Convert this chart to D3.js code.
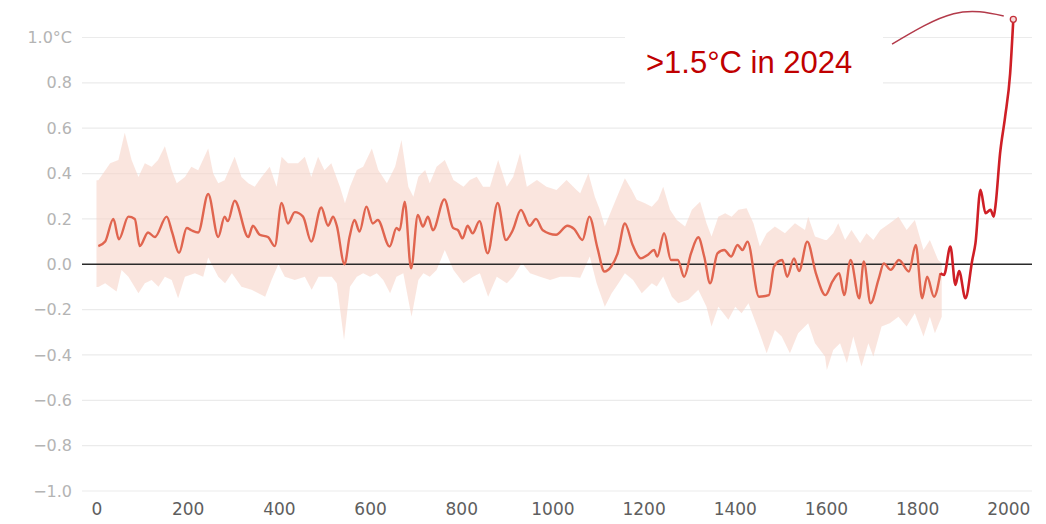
<!DOCTYPE html>
<html>
<head>
<meta charset="utf-8">
<script src="https://cdn.jsdelivr.net/npm/d3@7"></script>
<style>
    body { margin: 0; background: #fff; }
    svg { display: block; }
</style>
</head>
<body>
<div id="chart"></div>
<script>
// reconstruction mean, years 0..1850
let proxyYears = [4,19,37,49,70,84,95,113,128,154,166,181,198,208,223,245,267,281,288,303,333,343,358,376,391,406,420,435,453,471,493,508,519,527,544,555,566,577,592,606,617,643,658,665,676,690,705,716,727,738,763,782,793,803,814,825,840,858,880,898,913,931,950,964,979,1008,1033,1048,1066,1081,1099,1114,1129,1143,1159,1176,1194,1209,1223,1230,1245,1260,1275,1289,1304,1320,1333,1346,1362,1377,1392,1406,1417,1428,1453,1475,1486,1504,1515,1530,1541,1559,1578,1599,1614,1629,1640,1654,1673,1683,1698,1716,1727,1742,1760,1782,1797,1811,1822,1837,1851];
let proxyTemp = [0.08,0.10,0.20,0.11,0.21,0.20,0.08,0.14,0.12,0.21,0.14,0.05,0.16,0.15,0.14,0.31,0.12,0.21,0.19,0.28,0.12,0.17,0.13,0.12,0.08,0.27,0.18,0.23,0.21,0.10,0.25,0.17,0.21,0.17,0.0,0.12,0.195,0.144,0.254,0.18,0.195,0.078,0.16,0.15,0.276,-0.018,0.217,0.166,0.21,0.15,0.286,0.16,0.15,0.114,0.17,0.136,0.19,0.048,0.27,0.107,0.15,0.24,0.17,0.2,0.15,0.13,0.17,0.155,0.107,0.21,0.07,-0.032,-0.01,0.048,0.18,0.085,0.026,0.041,0.063,0.034,0.137,0.019,0.019,-0.055,0.048,0.119,0.034,-0.084,0.048,0.063,0.034,0.085,0.063,0.1,-0.143,-0.136,-0.01,0.019,-0.055,0.026,-0.03,0.1,-0.04,-0.136,-0.077,-0.04,-0.136,0.019,-0.15,0.012,-0.172,-0.062,0.004,-0.025,0.019,-0.032,0.085,-0.15,-0.055,-0.143,-0.04];

// instrumental era
let recentYears = [1851,1859,1873,1884,1892,1906,1921,1928,1939,1950,1961,1968,1972,1982,1993,2004,2011];
let recentTemp = [-0.04,-0.047,0.078,-0.091,-0.03,-0.15,0.019,0.093,0.328,0.225,0.24,0.21,0.26,0.49,0.65,0.84,1.08];

// uncertainty band edges
let bandHiYears = [0,4,30,48,62,77,92,106,121,135,150,165,176,194,208,223,245,256,267,281,303,318,333,347,362,380,395,406,420,442,457,471,486,500,515,534,545,556,571,585,604,618,637,655,669,684,695,706,721,731,746,764,783,805,819,834,848,863,881,900,914,929,944,966,987,1009,1031,1053,1061,1079,1093,1104,1115,1130,1145,1159,1174,1185,1203,1218,1232,1243,1258,1273,1291,1306,1324,1338,1349,1364,1379,1393,1408,1426,1441,1455,1470,1488,1510,1532,1554,1561,1576,1598,1602,1616,1627,1642,1656,1675,1689,1704,1719,1740,1759,1777,1795,1814,1828,1846,1854];
let bandHi = [0.37,0.37,0.445,0.46,0.58,0.46,0.385,0.445,0.43,0.46,0.52,0.415,0.357,0.385,0.43,0.415,0.51,0.40,0.357,0.37,0.474,0.385,0.357,0.342,0.385,0.43,0.342,0.474,0.445,0.445,0.474,0.385,0.474,0.415,0.445,0.342,0.269,0.342,0.416,0.43,0.511,0.416,0.357,0.43,0.548,0.342,0.298,0.386,0.416,0.357,0.43,0.46,0.372,0.342,0.372,0.386,0.342,0.342,0.46,0.342,0.386,0.489,0.342,0.372,0.342,0.328,0.372,0.328,0.313,0.401,0.298,0.24,0.166,0.24,0.313,0.379,0.328,0.284,0.269,0.254,0.284,0.342,0.24,0.195,0.166,0.24,0.276,0.181,0.122,0.21,0.225,0.21,0.24,0.247,0.181,0.078,0.137,0.166,0.137,0.181,0.151,0.21,0.122,0.107,0.107,0.137,0.181,0.107,0.151,0.093,0.137,0.107,0.151,0.181,0.21,0.151,0.195,0.063,0.107,0.019,0.005];
let bandLoYears = [0,4,19,44,55,70,92,106,121,136,150,165,179,194,216,234,245,267,282,297,318,340,370,384,399,413,435,457,472,487,516,527,543,556,571,585,600,615,629,644,658,673,691,706,717,731,746,764,783,805,826,841,859,878,900,914,933,951,973,995,1017,1039,1061,1082,1097,1115,1130,1145,1159,1177,1196,1218,1229,1243,1262,1276,1298,1320,1338,1349,1364,1386,1401,1415,1430,1452,1470,1488,1503,1521,1539,1561,1576,1598,1602,1616,1631,1646,1660,1678,1693,1704,1722,1740,1759,1777,1795,1814,1828,1839,1854];
let bandLo = [-0.10,-0.10,-0.084,-0.12,-0.025,-0.055,-0.128,-0.084,-0.07,-0.099,-0.055,-0.07,-0.15,-0.055,-0.04,-0.055,0.03,-0.055,-0.084,-0.04,-0.099,-0.113,-0.143,-0.07,0.0,-0.055,-0.07,-0.055,-0.113,-0.055,-0.055,-0.084,-0.334,-0.099,-0.055,-0.04,-0.055,-0.04,-0.07,-0.128,-0.055,-0.04,-0.231,-0.07,-0.04,-0.055,-0.025,0.063,-0.025,-0.084,-0.055,-0.04,-0.143,-0.055,-0.084,-0.055,0.005,-0.04,-0.055,-0.07,-0.055,-0.055,-0.06,0.034,-0.084,-0.187,-0.128,-0.084,-0.04,-0.069,-0.128,-0.084,-0.098,-0.054,-0.143,-0.172,-0.157,-0.113,-0.187,-0.275,-0.187,-0.245,-0.187,-0.216,-0.172,-0.29,-0.392,-0.29,-0.319,-0.392,-0.304,-0.26,-0.348,-0.407,-0.466,-0.378,-0.348,-0.436,-0.319,-0.451,-0.348,-0.407,-0.275,-0.26,-0.231,-0.275,-0.216,-0.319,-0.231,-0.304,-0.231];

let yTicks = [1.0,0.8,0.6,0.4,0.2,0.0,-0.2,-0.4,-0.6,-0.8,-1.0];
let xTicks = [0,200,400,600,800,1000,1200,1400,1600,1800,2000];

let noteText = ">1.5°C in 2024";
// leader arc from the note to the last value, in data units
let noteArc = [[1745,0.971],[1880,1.105],[1990,1.095]];

const width = 1046, height = 524;
const left = 82, right = 1032;

let x = d3.scaleLinear().domain([0, 2000]).range([96.5, 1008.3]);
let y = d3.scaleLinear().domain([-1, 1]).range([491, 37.5]);

let svg = d3.select("#chart").append("svg")
    .attr("width", width)
    .attr("height", height);

// grid
svg.append("g")
    .selectAll("line")
    .data(yTicks.filter(function (d) { return d != 0; }))
    .enter()
    .append("line")
    .attr("x1", left)
    .attr("x2", right)
    .attr("y1", function (d) { return y(d); })
    .attr("y2", function (d) { return y(d); })
    .style("stroke", "#ebebeb")
    .style("stroke-width", 1.2);

// y labels
let yAxis = svg.append("g")
    .attr("transform", "translate(72,0)")
    .call(d3.axisLeft(y).tickValues(yTicks).tickSize(0).tickPadding(0)
        .tickFormat(function (d) { return d == 1 ? "1.0°C" : d3.format(".1f")(d); }));
yAxis.select(".domain").remove();
yAxis.selectAll("text")
    .style("font-family", "'DejaVu Sans', sans-serif")
    .style("font-size", "16px")
    .style("fill", "#b4b4b4");

// x labels
let xAxis = svg.append("g")
    .attr("transform", "translate(0,503)")
    .call(d3.axisBottom(x).tickValues(xTicks).tickSize(0).tickPadding(0).tickFormat(d3.format("d")));
xAxis.select(".domain").remove();
xAxis.selectAll("text")
    .style("font-family", "'DejaVu Sans', sans-serif")
    .style("font-size", "17px")
    .style("fill", "#5e5e5e");

// uncertainty band
let bandPts = [];
for (let i = 0; i < bandHiYears.length; i++) bandPts.push([bandHiYears[i], bandHi[i]]);
for (let i = bandLoYears.length - 1; i >= 0; i--) bandPts.push([bandLoYears[i], bandLo[i]]);

svg.append("path")
    .datum(bandPts)
    .attr("d", d3.line()
        .x(function (d) { return x(d[0]); })
        .y(function (d) { return y(d[1]); }))
    .style("fill", "#f6d3c8")
    .style("fill-opacity", 0.6)
    .style("stroke", "none");

// zero line
svg.append("line")
    .attr("x1", left)
    .attr("x2", right)
    .attr("y1", y(0))
    .attr("y2", y(0))
    .style("stroke", "#2a2a2a")
    .style("stroke-width", 1.5);

let line = d3.line()
    .x(function (d) { return x(d[0]); })
    .y(function (d) { return y(d[1]); })
    .curve(d3.curveMonotoneX);

svg.append("path")
    .datum(proxyYears.map(function (d, i) { return [d, proxyTemp[i]]; }))
    .attr("d", line)
    .style("fill", "none")
    .style("stroke", "#e0654f")
    .style("stroke-width", 2.4)
    .style("stroke-linejoin", "round");

svg.append("path")
    .datum(recentYears.map(function (d, i) { return [d, recentTemp[i]]; }))
    .attr("d", line)
    .style("fill", "none")
    .style("stroke", "#cf1f26")
    .style("stroke-width", 2.6)
    .style("stroke-linejoin", "round");

// annotation
let last = recentYears.length - 1;
svg.append("path")
    .datum(noteArc)
    .attr("d", d3.line()
        .x(function (d) { return x(d[0]); })
        .y(function (d) { return y(d[1]); })
        .curve(d3.curveNatural))
    .style("fill", "none")
    .style("stroke", "#b33a4a")
    .style("stroke-width", 1.5);

svg.append("circle")
    .attr("cx", x(recentYears[last]))
    .attr("cy", y(recentTemp[last]))
    .attr("r", 3)
    .style("fill", "#f5dada")
    .style("stroke", "#c4303a")
    .style("stroke-width", 1.3);

svg.append("rect")
    .attr("x", 625)
    .attr("y", 31)
    .attr("width", 258)
    .attr("height", 54)
    .style("fill", "#fff");

svg.append("text")
    .attr("x", 646)
    .attr("y", 73)
    .text(noteText)
    .style("font-family", "'Liberation Sans', Arial, sans-serif")
    .style("font-size", "31px")
    .style("fill", "#c00000");
</script>
</body>
</html>
